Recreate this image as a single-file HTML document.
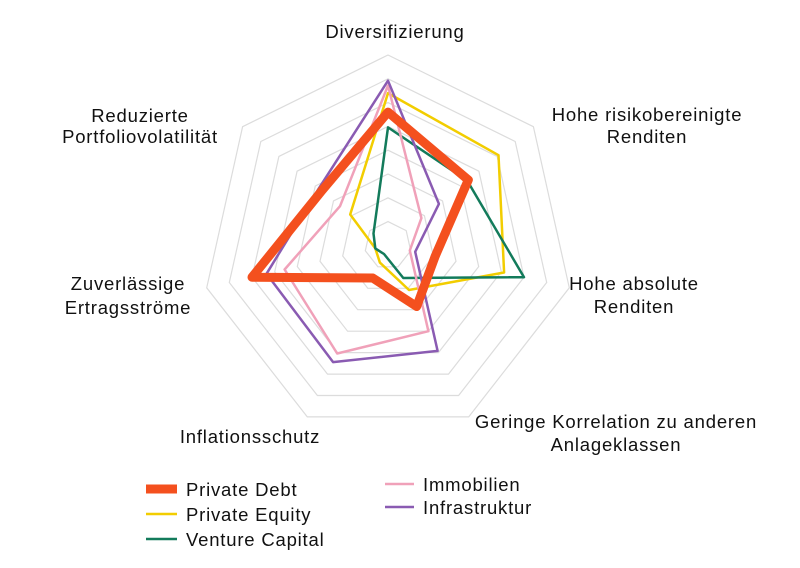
<!DOCTYPE html>
<html><head><meta charset="utf-8">
<style>
html,body{margin:0;padding:0;background:#fff;}
svg{display:block;}
text{font-family:"Liberation Sans",sans-serif;font-size:18.5px;letter-spacing:0.8px;fill:#111;}
</style></head>
<body>
<svg id="s" width="800" height="568" viewBox="0 0 800 568" xmlns="http://www.w3.org/2000/svg">
<g id="grid" fill="none" stroke="#dcdcdc" stroke-width="1.2"></g>
<g id="series" fill="none" stroke-linejoin="round" stroke-linecap="round"></g>
<g text-anchor="middle">
<text x="395" y="38">Diversifizierung</text>
<text x="647" y="121">Hohe risikobereinigte</text>
<text x="647" y="143">Renditen</text>
<text x="634" y="290">Hohe absolute</text>
<text x="634" y="313">Renditen</text>
<text x="616" y="428">Geringe Korrelation zu anderen</text>
<text x="616" y="451">Anlageklassen</text>
<text x="250" y="443">Inflationsschutz</text>
<text x="128" y="290">Zuverlässige</text>
<text x="128" y="314">Ertragsströme</text>
<text x="140" y="122">Reduzierte</text>
<text x="140" y="143">Portfoliovolatilität</text>
</g>
<line x1="146" y1="489" x2="177" y2="489" stroke="#f4501e" stroke-width="9"/>
<text x="186" y="496">Private Debt</text>
<line x1="146" y1="514" x2="177" y2="514" stroke="#f2cd00" stroke-width="2.5"/>
<text x="186" y="521">Private Equity</text>
<line x1="146" y1="539" x2="177" y2="539" stroke="#137b5b" stroke-width="2.5"/>
<text x="186" y="546">Venture Capital</text>
<line x1="385" y1="484" x2="414" y2="484" stroke="#f0a1b9" stroke-width="2.5"/>
<text x="423" y="491">Immobilien</text>
<line x1="385" y1="507" x2="414" y2="507" stroke="#8a5bb2" stroke-width="2.5"/>
<text x="423" y="514">Infrastruktur</text>
</svg>
<script>
var cx=388,cy=245.4,rx=186,ry=190.4,NS="http://www.w3.org/2000/svg";
function pt(i,r){var a=(-90+i*360/7)*Math.PI/180;return (cx+r*rx*Math.cos(a)).toFixed(1)+","+(cy+r*ry*Math.sin(a)).toFixed(1);}
function poly(vals){return vals.map(function(r,i){return pt(i,r);}).join(" ");}
var g=document.getElementById("grid");
for(var k=1;k<=8;k++){var p=document.createElementNS(NS,"polygon");p.setAttribute("points",poly([k/8,k/8,k/8,k/8,k/8,k/8,k/8]));g.appendChild(p);}
var S=[
 ["#f2cd00",2.5,[0.80,0.76,0.64,0.26,0.10,0.07,0.26]],
 ["#137b5b",2.5,[0.62,0.545,0.75,0.19,0.05,0.07,0.10]],
 ["#f0a1b9",2.5,[0.84,0.23,0.12,0.50,0.63,0.57,0.33]],
 ["#8a5bb2",2.5,[0.865,0.35,0.15,0.615,0.68,0.67,0.477]],
 ["#f4501e",9,[0.70,0.552,0.26,0.356,0.19,0.75,0.457]]
];
var sg=document.getElementById("series");
S.forEach(function(s){var p=document.createElementNS(NS,"polygon");p.setAttribute("points",poly(s[2]));p.setAttribute("stroke",s[0]);p.setAttribute("stroke-width",s[1]);sg.appendChild(p);});
</script>
</body></html>
